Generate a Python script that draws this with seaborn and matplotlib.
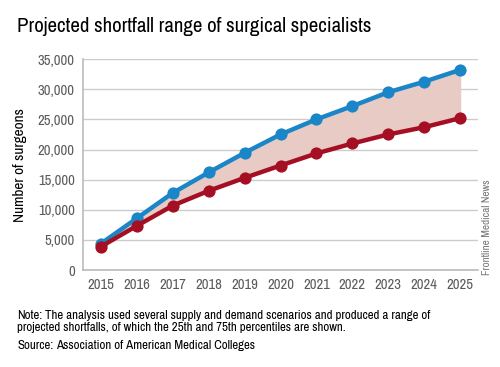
import pandas as pd
import matplotlib.pyplot as plt
import seaborn as sns

###data###
years = [2015, 2016, 2017, 2018, 2019, 2020, 2021, 2022, 2023, 2024, 2025]
p75 = [4400, 8600, 12800, 16200, 19450, 22500, 25000, 27200, 29500, 31250, 33200]
p25 = [3900, 7350, 10700, 13150, 15300, 17350, 19350, 21000, 22500, 23700, 25200]
yticks = [0, 5000, 10000, 15000, 20000, 25000, 30000, 35000]

blue = '#1a86c8'
red = '#a50f23'

df = pd.DataFrame({'year': years * 2,
                   'surgeons': p75 + p25,
                   'pct': ['75th'] * len(years) + ['25th'] * len(years)})

sns.set_style('white')
plt.rcParams['font.family'] = ['Archivo Narrow', 'DejaVu Sans']

fig = plt.figure(figsize=(5, 3.67), dpi=100)
ax = fig.add_axes([0.166, 0.264, 0.79, 0.575])

#shaded range between the two percentiles
ax.fill_between(years, p25, p75, color='#e9cbc6', zorder=1)
sns.lineplot(data=df, x='year', y='surgeons', hue='pct',
             palette={'75th': blue, '25th': red}, marker='o',
             markersize=8.8, markeredgewidth=0, linewidth=3.2,
             legend=False, ax=ax, zorder=3)

ax.set_xlim(2014.5, 2025.5)
ax.set_ylim(0, 35000)
ax.set_xticks(years)
ax.set_yticks(yticks)
ax.set_yticklabels([f'{v:,}' for v in yticks])
ax.tick_params(axis='both', labelsize=10.5, colors='#5a5a5a', length=0, pad=6)
ax.grid(axis='y', color='#cccccc', linewidth=1)
ax.set_axisbelow(True)
for s in ['top', 'right']:
    ax.spines[s].set_visible(False)
for s in ['left', 'bottom']:
    ax.spines[s].set_color('#bbbbbb')
    ax.spines[s].set_linewidth(1.2)
ax.set_xlabel('')
ax.set_ylabel('Number of surgeons', fontsize=11, color='black', labelpad=8)

fig.text(0.034, 0.927, 'Projected shortfall range of surgical specialists',
         fontsize=15, color='black', va='center')
fig.text(0.974, 0.38, 'Frontline Medical News', rotation=90, fontsize=8,
         color='#777777', ha='center', va='center')

#notes: bold lead word followed by regular text
r = fig.canvas.get_renderer()
def note(y, lead, rest):
    t = fig.text(0.034, y, lead, fontsize=9.3, weight='bold', color='black', va='baseline')
    bb = t.get_window_extent(renderer=r)
    x2 = (bb.x1 + 3) / fig.bbox.width
    fig.text(x2, y, rest, fontsize=9.3, color='black', va='baseline')

note(0.13, 'Note:', 'The analysis used several supply and demand scenarios and produced a range of')
fig.text(0.034, 0.097, 'projected shortfalls, of which the 25th and 75th percentiles are shown.',
         fontsize=9.3, color='black', va='baseline')
note(0.048, 'Source:', 'Association of American Medical Colleges')

plt.savefig('out.png', dpi=100)
plt.close()
